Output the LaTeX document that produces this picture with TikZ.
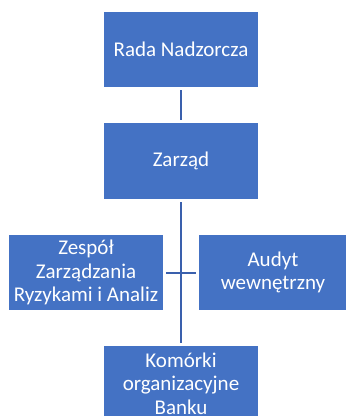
\documentclass[tikz,border=0pt]{standalone}
\usepackage{fontspec}
\setmainfont{Carlito}
\definecolor{boxblue}{HTML}{4472C4}
\definecolor{lineblue}{HTML}{3A60AD}
\begin{document}
\begin{tikzpicture}[x=1pt,y=-1pt,
  orgbox/.style={rectangle, fill=boxblue, text=white, inner sep=0pt,
    minimum width=154pt, minimum height=75pt, align=center,
    font=\fontsize{21}{23.5}\selectfont},
  conn/.style={draw=lineblue, line width=2pt, shorten <=3pt, shorten >=3pt}]
\useasboundingbox (0,0) rectangle (346,416);
\fill[white] (0,0) rectangle (346,416);
\begin{scope}
\clip (0,0) rectangle (346,416);
\node[orgbox] (rada) at (181,49.5) {Rada Nadzorcza};
\node[orgbox, minimum height=76pt] (zarzad) at (181,161) {Zarząd};
\node[orgbox] (zespol) at (86,272.5) {Zespół\\Zarządzania\\Ryzykami i Analiz};
\node[orgbox, minimum width=148pt] (audyt) at (273,272.5) {Audyt\\wewnętrzny};
\node[orgbox] (komorki) at (181,383.5) {Komórki\\organizacyjne\\Banku};
\draw[conn] (rada.south) -- (zarzad.north);
\draw[conn] (zarzad.south) -- (komorki.north);
\draw[conn] (zespol.east) -- (audyt.west);
\end{scope}
\end{tikzpicture}
\end{document}
